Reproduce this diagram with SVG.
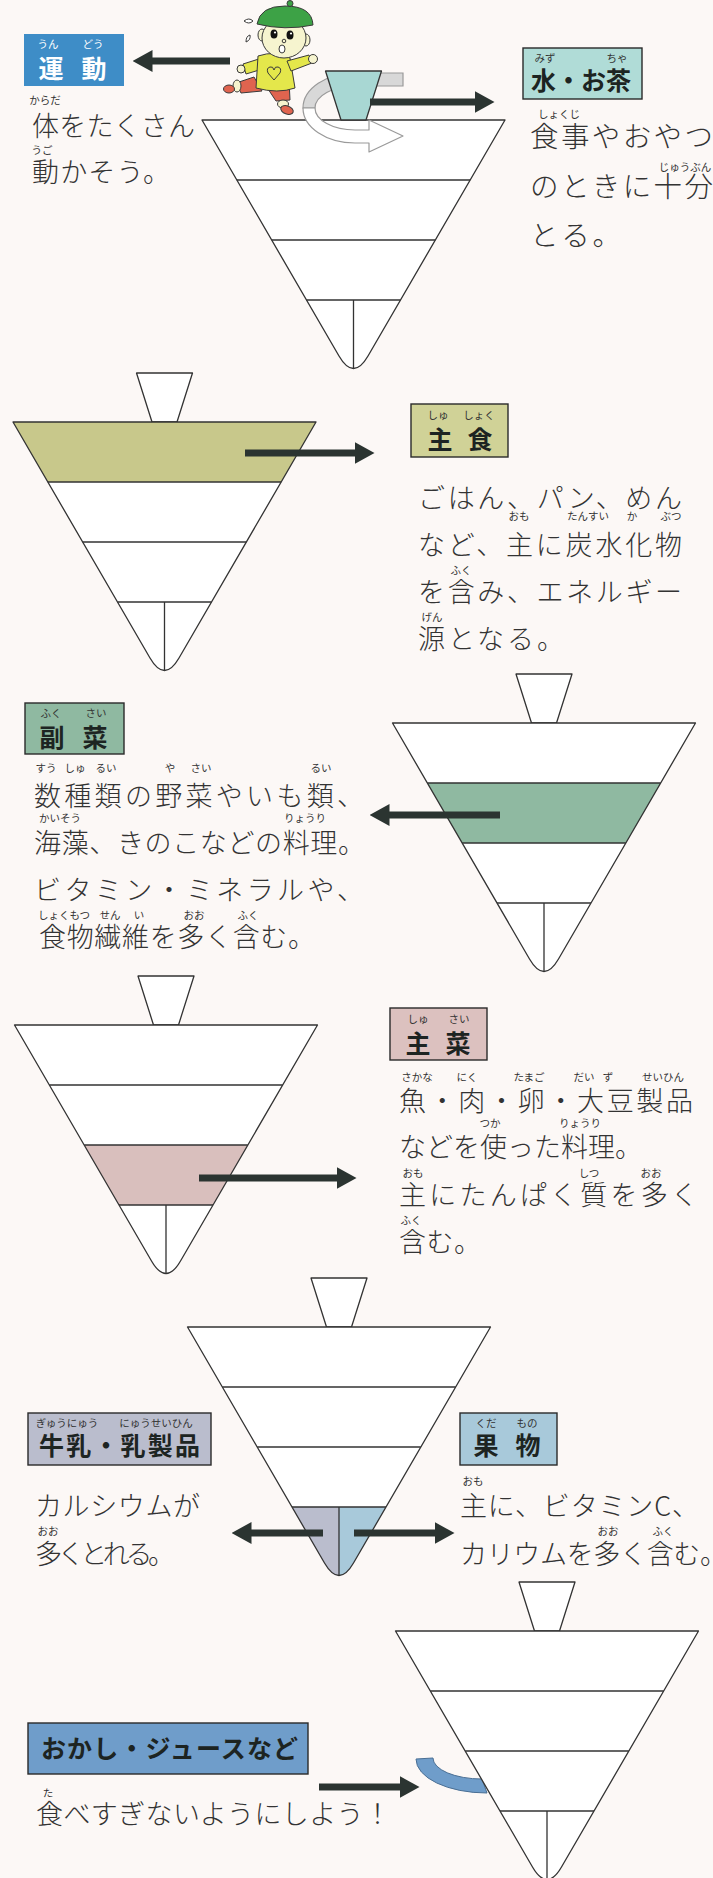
<svg xmlns="http://www.w3.org/2000/svg" xmlns:xlink="http://www.w3.org/1999/xlink" width="713" height="1878" viewBox="0 0 713 1878">
  <style>
    .t { font-family: "Noto Sans CJK JP", "Noto Sans CJK SC", sans-serif; fill: #333; }
    .b { font-size: 27px; font-weight: 300; }
    .bb { font-size: 28.5px; font-weight: 300; }
    .r { font-size: 10.5px; text-anchor: middle; }
    .lab { font-size: 25px; font-weight: 700; fill: #1d2422; }
    .c { text-anchor: middle; }
    .w { fill: #fff; }
    .box { stroke: #2a2a2a; stroke-width: 1.4; }
    .ln { fill: none; stroke: #333; stroke-width: 1.3; stroke-linejoin: round; }
    .wf { fill: #fff; }
    .capf { fill: #fff; stroke: #333; stroke-width: 1.3; stroke-linejoin: round; }
    .arw { fill: none; stroke: #2b3431; stroke-width: 7; marker-end: url(#ah); }
  </style>
  <defs>
    <marker id="ah" markerUnits="userSpaceOnUse" markerWidth="20" markerHeight="22" viewBox="0 0 20 22" refX="0.5" refY="11" orient="auto">
      <path d="M0,0 L20,11 L0,22 Z" fill="#2b3431"/>
    </marker>
    <!-- spinning top body, local origin at centre of the top rim -->
    <path id="spin" d="M-151.5,0 L151.5,0 L14.5,236 Q0,261 -14.5,236 Z"/>
    <path id="rings" d="M-116.7,60 H116.7 M-81.8,120 H81.8 M-47,180 H47 M0,180 V248.5"/>
    <path id="cap" d="M-28,-49 L28,-49 L12.5,0 L-12.5,0 Z"/>
  </defs>

  <rect width="713" height="1878" fill="#fcf8f6"/>

  <!-- top 1 : exercise / water -->
  <g id="top-water" transform="translate(353.5,120)">
    <use href="#spin" class="wf"/>
    <use href="#rings" class="ln"/>
    <use href="#spin" class="ln"/>
  </g>
  <g id="swirl-back">
    <path d="M403,73 L355,73 A52,35 0 0 0 303,108 L315,108 A40,22 0 0 1 355,86 L403,86 Z" fill="#d8d8d8" stroke="#9a9a9a" stroke-width="1.2"/>
  </g>
  <g id="cup">
    <path d="M325.5,71 L381.5,71 L366,120 L341,120 Z" fill="#a8d7d3" stroke="#333" stroke-width="1.3" stroke-linejoin="round"/>
  </g>
  <g id="swirl-front">
    <path d="M303,108 A52,35 0 0 0 355,143 L369,143 L369,152 L403,136 L369,120 L369,130 L355,130 A40,22 0 0 1 315,108 Z" fill="#fff" stroke="#9a9a9a" stroke-width="1.2" stroke-linejoin="round"/>
  </g>

  <!-- runner -->
  <g id="runner" stroke="#3a3a3a" stroke-width="1" stroke-linejoin="round">
    <path d="M254,77 L262,91 L241,93 L236,83 Z" fill="#e0644f"/>
    <ellipse cx="237" cy="86" rx="4" ry="6" fill="#f6f4cf"/>
    <ellipse cx="229" cy="89" rx="5.5" ry="4" fill="#e0644f"/>
    <path d="M262,80 L289,80 L290,100 L276,101 Z" fill="#e0644f"/>
    <ellipse cx="283" cy="104" rx="5.5" ry="4" fill="#f6f4cf"/>
    <ellipse cx="287" cy="110" rx="6.5" ry="4" fill="#e0644f" transform="rotate(20 287 110)"/>
    <path d="M262,58 L266,68 L246,74 L243,64 Z" fill="#e4e74b"/>
    <circle cx="241" cy="69" r="4" fill="#f6f4cf"/>
    <path d="M258,56 Q276,50 290,58 L295,88 Q278,94 256,88 Z" fill="#e4e74b"/>
    <path d="M287,61 L309,55 L312,63 L291,71 Z" fill="#e4e74b"/>
    <circle cx="313" cy="59" r="4.5" fill="#f6f4cf"/>
    <path d="M274,80 L268,73 Q266,68 270,67 Q273,66 274,70 Q275,66 278,67 Q282,68 280,73 Z" fill="none"/>
    <ellipse cx="262" cy="35" rx="4" ry="6" fill="#f6f4cf"/>
    <ellipse cx="306" cy="40" rx="4" ry="6" fill="#f6f4cf"/>
    <ellipse cx="284" cy="38" rx="22" ry="20" fill="#f6f4cf"/>
    <path d="M257,24 Q260,6 285,6 Q312,6 313,25 Q285,31 257,24 Z" fill="#3da246"/>
    <circle cx="290" cy="3.5" r="3" fill="#3da246"/>
    <ellipse cx="274" cy="34" rx="3.5" ry="4.5" fill="#111" stroke="none"/>
    <ellipse cx="290" cy="35" rx="3.5" ry="4.5" fill="#111" stroke="none"/>
    <circle cx="275" cy="32.5" r="1.1" fill="#fff" stroke="none"/>
    <circle cx="291" cy="33.5" r="1.1" fill="#fff" stroke="none"/>
    <circle cx="284" cy="41" r="1.8" fill="none"/>
    <ellipse cx="282" cy="49" rx="3" ry="4" fill="#fff"/>
    <path d="M244,21 Q249,17 253,21 Q249,25 244,21 Z" fill="#fff"/>
    <path d="M246,42 Q246,36 250,35 Q251,40 246,42 Z" fill="#fff"/>
  </g>

  <!-- top 2 : staple food -->
  <g id="top-shushoku" transform="translate(164.5,422)">
    <use href="#cap" class="capf"/>
    <use href="#spin" class="wf"/>
    <path d="M-151.5,0 L151.5,0 L116.7,60 L-116.7,60 Z" fill="#c8c88b"/>
    <use href="#rings" class="ln"/>
    <use href="#spin" class="ln"/>
  </g>

  <!-- top 3 : side dishes -->
  <g id="top-fukusai" transform="translate(544,723)">
    <use href="#cap" class="capf"/>
    <use href="#spin" class="wf"/>
    <path d="M-116.7,60 L116.7,60 L81.8,120 L-81.8,120 Z" fill="#8fb9a1"/>
    <use href="#rings" class="ln"/>
    <use href="#spin" class="ln"/>
  </g>

  <!-- top 4 : main dishes -->
  <g id="top-shusai" transform="translate(166,1025)">
    <use href="#cap" class="capf"/>
    <use href="#spin" class="wf"/>
    <path d="M-81.8,120 L81.8,120 L47,180 L-47,180 Z" fill="#d9bfbd"/>
    <use href="#rings" class="ln"/>
    <use href="#spin" class="ln"/>
  </g>

  <!-- top 5 : milk / fruit -->
  <g id="top-milk-fruit" transform="translate(339,1327)">
    <use href="#cap" class="capf"/>
    <use href="#spin" class="wf"/>
    <path d="M-47,180 L0,180 L0,248.5 Q-7.25,248.5 -14.5,236 Z" fill="#babdcd"/>
    <path d="M47,180 L0,180 L0,248.5 Q7.25,248.5 14.5,236 Z" fill="#a8c9da"/>
    <use href="#rings" class="ln"/>
    <use href="#spin" class="ln"/>
  </g>

  <!-- top 6 : sweets -->
  <g id="sweets-strap">
    <path d="M416,1759 A71,34 0 0 0 487,1793 L482,1779 A49,21 0 0 1 433,1758 Z" fill="#6f9dca" stroke="#4a6f94" stroke-width="1"/>
  </g>
  <g id="top-sweets" transform="translate(547,1631)">
    <use href="#cap" class="capf"/>
    <use href="#spin" class="wf"/>
    <use href="#rings" class="ln"/>
    <use href="#spin" class="ln"/>
  </g>

  <!-- connectors -->
  <g id="connectors">
    <line class="arw" x1="230" y1="61" x2="152" y2="61"/>
    <line class="arw" x1="370" y1="102" x2="475" y2="102"/>
    <line class="arw" x1="245" y1="453" x2="355" y2="453"/>
    <line class="arw" x1="500" y1="815" x2="389" y2="815"/>
    <line class="arw" x1="199" y1="1178" x2="337" y2="1178"/>
    <line class="arw" x1="323" y1="1533" x2="251" y2="1533"/>
    <line class="arw" x1="354" y1="1533" x2="435" y2="1533"/>
    <line class="arw" x1="319" y1="1787" x2="400" y2="1787"/>
  </g>

  <!-- label: exercise -->
  <g id="label-undou">
    <rect x="24" y="34" width="100" height="52" fill="#3e8dc7"/>
    <text class="t r w" x="48" y="48">うん</text>
    <text class="t r w" x="93" y="48">どう</text>
    <text class="t lab c w" x="51" y="78">運</text>
    <text class="t lab c w" x="94" y="78">動</text>
  </g>
  <g id="text-undou">
    <text class="t r" x="45" y="104">からだ</text>
    <text class="t b" x="32" y="136" textLength="163" lengthAdjust="spacing">体をたくさん</text>
    <text class="t r" x="42" y="154">うご</text>
    <text class="t b" x="32" y="182" textLength="138" lengthAdjust="spacing">動かそう。</text>
  </g>

  <!-- label: water / tea -->
  <g id="label-water">
    <rect class="box" x="523" y="48" width="119" height="51" fill="#b0dcd7"/>
    <text class="t r" x="545" y="62">みず</text>
    <text class="t r" x="617" y="62">ちゃ</text>
    <text class="t lab" x="531" y="90">水・お茶</text>
  </g>
  <g id="text-water">
    <text class="t r" x="559" y="118">しょくじ</text>
    <text class="t bb" x="530" y="147" textLength="183" lengthAdjust="spacing">食事やおやつ</text>
    <text class="t r" x="685" y="171">じゅうぶん</text>
    <text class="t bb" x="530" y="197" textLength="183" lengthAdjust="spacing">のときに十分</text>
    <text class="t bb" x="530" y="246" textLength="91" lengthAdjust="spacing">とる。</text>
  </g>

  <!-- label: staple food -->
  <g id="label-shushoku">
    <rect class="box" x="411" y="404" width="97" height="53" fill="#d0d297"/>
    <text class="t r" x="438" y="419">しゅ</text>
    <text class="t r" x="479" y="419">しょく</text>
    <text class="t lab c" x="440" y="449">主</text>
    <text class="t lab c" x="480" y="449">食</text>
  </g>
  <g id="text-shushoku">
    <text class="t b" x="418" y="508" textLength="264" lengthAdjust="spacing">ごはん、パン、めん</text>
    <text class="t r" x="519" y="520">おも</text>
    <text class="t r" x="588" y="520">たんすい</text>
    <text class="t r" x="632" y="520">か</text>
    <text class="t r" x="671" y="520">ぶつ</text>
    <text class="t b" x="418" y="555" textLength="264" lengthAdjust="spacing">など、主に炭水化物</text>
    <text class="t r" x="461" y="574">ふく</text>
    <text class="t b" x="418" y="602" textLength="264" lengthAdjust="spacing">を含み、エネルギー</text>
    <text class="t r" x="432" y="621">げん</text>
    <text class="t b" x="418" y="649" textLength="146" lengthAdjust="spacing">源となる。</text>
  </g>

  <!-- label: side dishes -->
  <g id="label-fukusai">
    <rect class="box" x="25" y="703" width="99" height="51" fill="#8fb9a1"/>
    <text class="t r" x="51" y="717">ふく</text>
    <text class="t r" x="96" y="717">さい</text>
    <text class="t lab c" x="52" y="747">副</text>
    <text class="t lab c" x="95" y="747">菜</text>
  </g>
  <g id="text-fukusai">
    <text class="t r" x="46" y="772">すう</text>
    <text class="t r" x="75" y="772">しゅ</text>
    <text class="t r" x="106" y="772">るい</text>
    <text class="t r" x="170" y="772">や</text>
    <text class="t r" x="201" y="772">さい</text>
    <text class="t r" x="321" y="772">るい</text>
    <text class="t b" x="34" y="806" textLength="330" lengthAdjust="spacing">数種類の野菜やいも類、</text>
    <text class="t r" x="60" y="822">かいそう</text>
    <text class="t r" x="305" y="822">りょうり</text>
    <text class="t b" x="34" y="853" textLength="331" lengthAdjust="spacing">海藻、きのこなどの料理。</text>
    <text class="t b" x="34" y="900" textLength="330" lengthAdjust="spacing">ビタミン・ミネラルや、</text>
    <text class="t r" x="64" y="919">しょくもつ</text>
    <text class="t r" x="110" y="919">せん</text>
    <text class="t r" x="139" y="919">い</text>
    <text class="t r" x="194" y="919">おお</text>
    <text class="t r" x="248" y="919">ふく</text>
    <text class="t b" x="39" y="947" textLength="276" lengthAdjust="spacing">食物繊維を多く含む。</text>
  </g>

  <!-- label: main dishes -->
  <g id="label-shusai">
    <rect class="box" x="390" y="1008" width="97" height="52" fill="#dcc1bf"/>
    <text class="t r" x="418" y="1023">しゅ</text>
    <text class="t r" x="459" y="1023">さい</text>
    <text class="t lab c" x="418" y="1053">主</text>
    <text class="t lab c" x="458" y="1053">菜</text>
  </g>
  <g id="text-shusai">
    <text class="t r" x="417" y="1081">さかな</text>
    <text class="t r" x="467" y="1081">にく</text>
    <text class="t r" x="529" y="1081">たまご</text>
    <text class="t r" x="584" y="1081">だい</text>
    <text class="t r" x="608" y="1081">ず</text>
    <text class="t r" x="663" y="1081">せいひん</text>
    <text class="t b" x="399" y="1111" textLength="294" lengthAdjust="spacing">魚・肉・卵・大豆製品</text>
    <text class="t r" x="490" y="1127">つか</text>
    <text class="t r" x="580" y="1127">りょうり</text>
    <text class="t b" x="399" y="1157" textLength="243" lengthAdjust="spacing">などを使った料理。</text>
    <text class="t r" x="413" y="1177">おも</text>
    <text class="t r" x="589" y="1177">しつ</text>
    <text class="t r" x="651" y="1177">おお</text>
    <text class="t b" x="399" y="1205" textLength="299" lengthAdjust="spacing">主にたんぱく質を多く</text>
    <text class="t r" x="411" y="1224">ふく</text>
    <text class="t b" x="399" y="1252" textLength="82" lengthAdjust="spacing">含む。</text>
  </g>

  <!-- label: milk -->
  <g id="label-milk">
    <rect class="box" x="28" y="1413" width="183" height="52" fill="#babdcd"/>
    <text class="t r" x="67" y="1427">ぎゅうにゅう</text>
    <text class="t r" x="156" y="1427">にゅうせいひん</text>
    <text class="t lab" x="39" y="1455" textLength="161" lengthAdjust="spacing">牛乳・乳製品</text>
  </g>
  <g id="text-milk">
    <text class="t b" x="35" y="1516" textLength="165" lengthAdjust="spacing">カルシウムが</text>
    <text class="t r" x="48" y="1535">おお</text>
    <text class="t b" x="35" y="1564" textLength="140" lengthAdjust="spacing">多くとれる。</text>
  </g>

  <!-- label: fruit -->
  <g id="label-fruit">
    <rect class="box" x="460" y="1413" width="97" height="52" fill="#a8c9da"/>
    <text class="t r" x="486" y="1427">くだ</text>
    <text class="t r" x="527" y="1427">もの</text>
    <text class="t lab c" x="486" y="1455">果</text>
    <text class="t lab c" x="528" y="1455">物</text>
  </g>
  <g id="text-fruit">
    <text class="t r" x="473" y="1485">おも</text>
    <text class="t b" x="460" y="1516" textLength="239" lengthAdjust="spacing">主に、ビタミンC、</text>
    <text class="t r" x="608" y="1535">おお</text>
    <text class="t r" x="663" y="1535">ふく</text>
    <text class="t b" x="460" y="1564" textLength="267" lengthAdjust="spacing">カリウムを多く含む。</text>
  </g>

  <!-- label: sweets -->
  <g id="label-sweets">
    <rect class="box" x="28" y="1723" width="280" height="51" fill="#6f9dca"/>
    <text class="t lab" x="41" y="1758" textLength="257" lengthAdjust="spacing">おかし・ジュースなど</text>
  </g>
  <g id="text-sweets">
    <text class="t r" x="48" y="1797">た</text>
    <text class="t b" x="36" y="1824" textLength="355" lengthAdjust="spacing">食べすぎないようにしよう！</text>
  </g>
</svg>
